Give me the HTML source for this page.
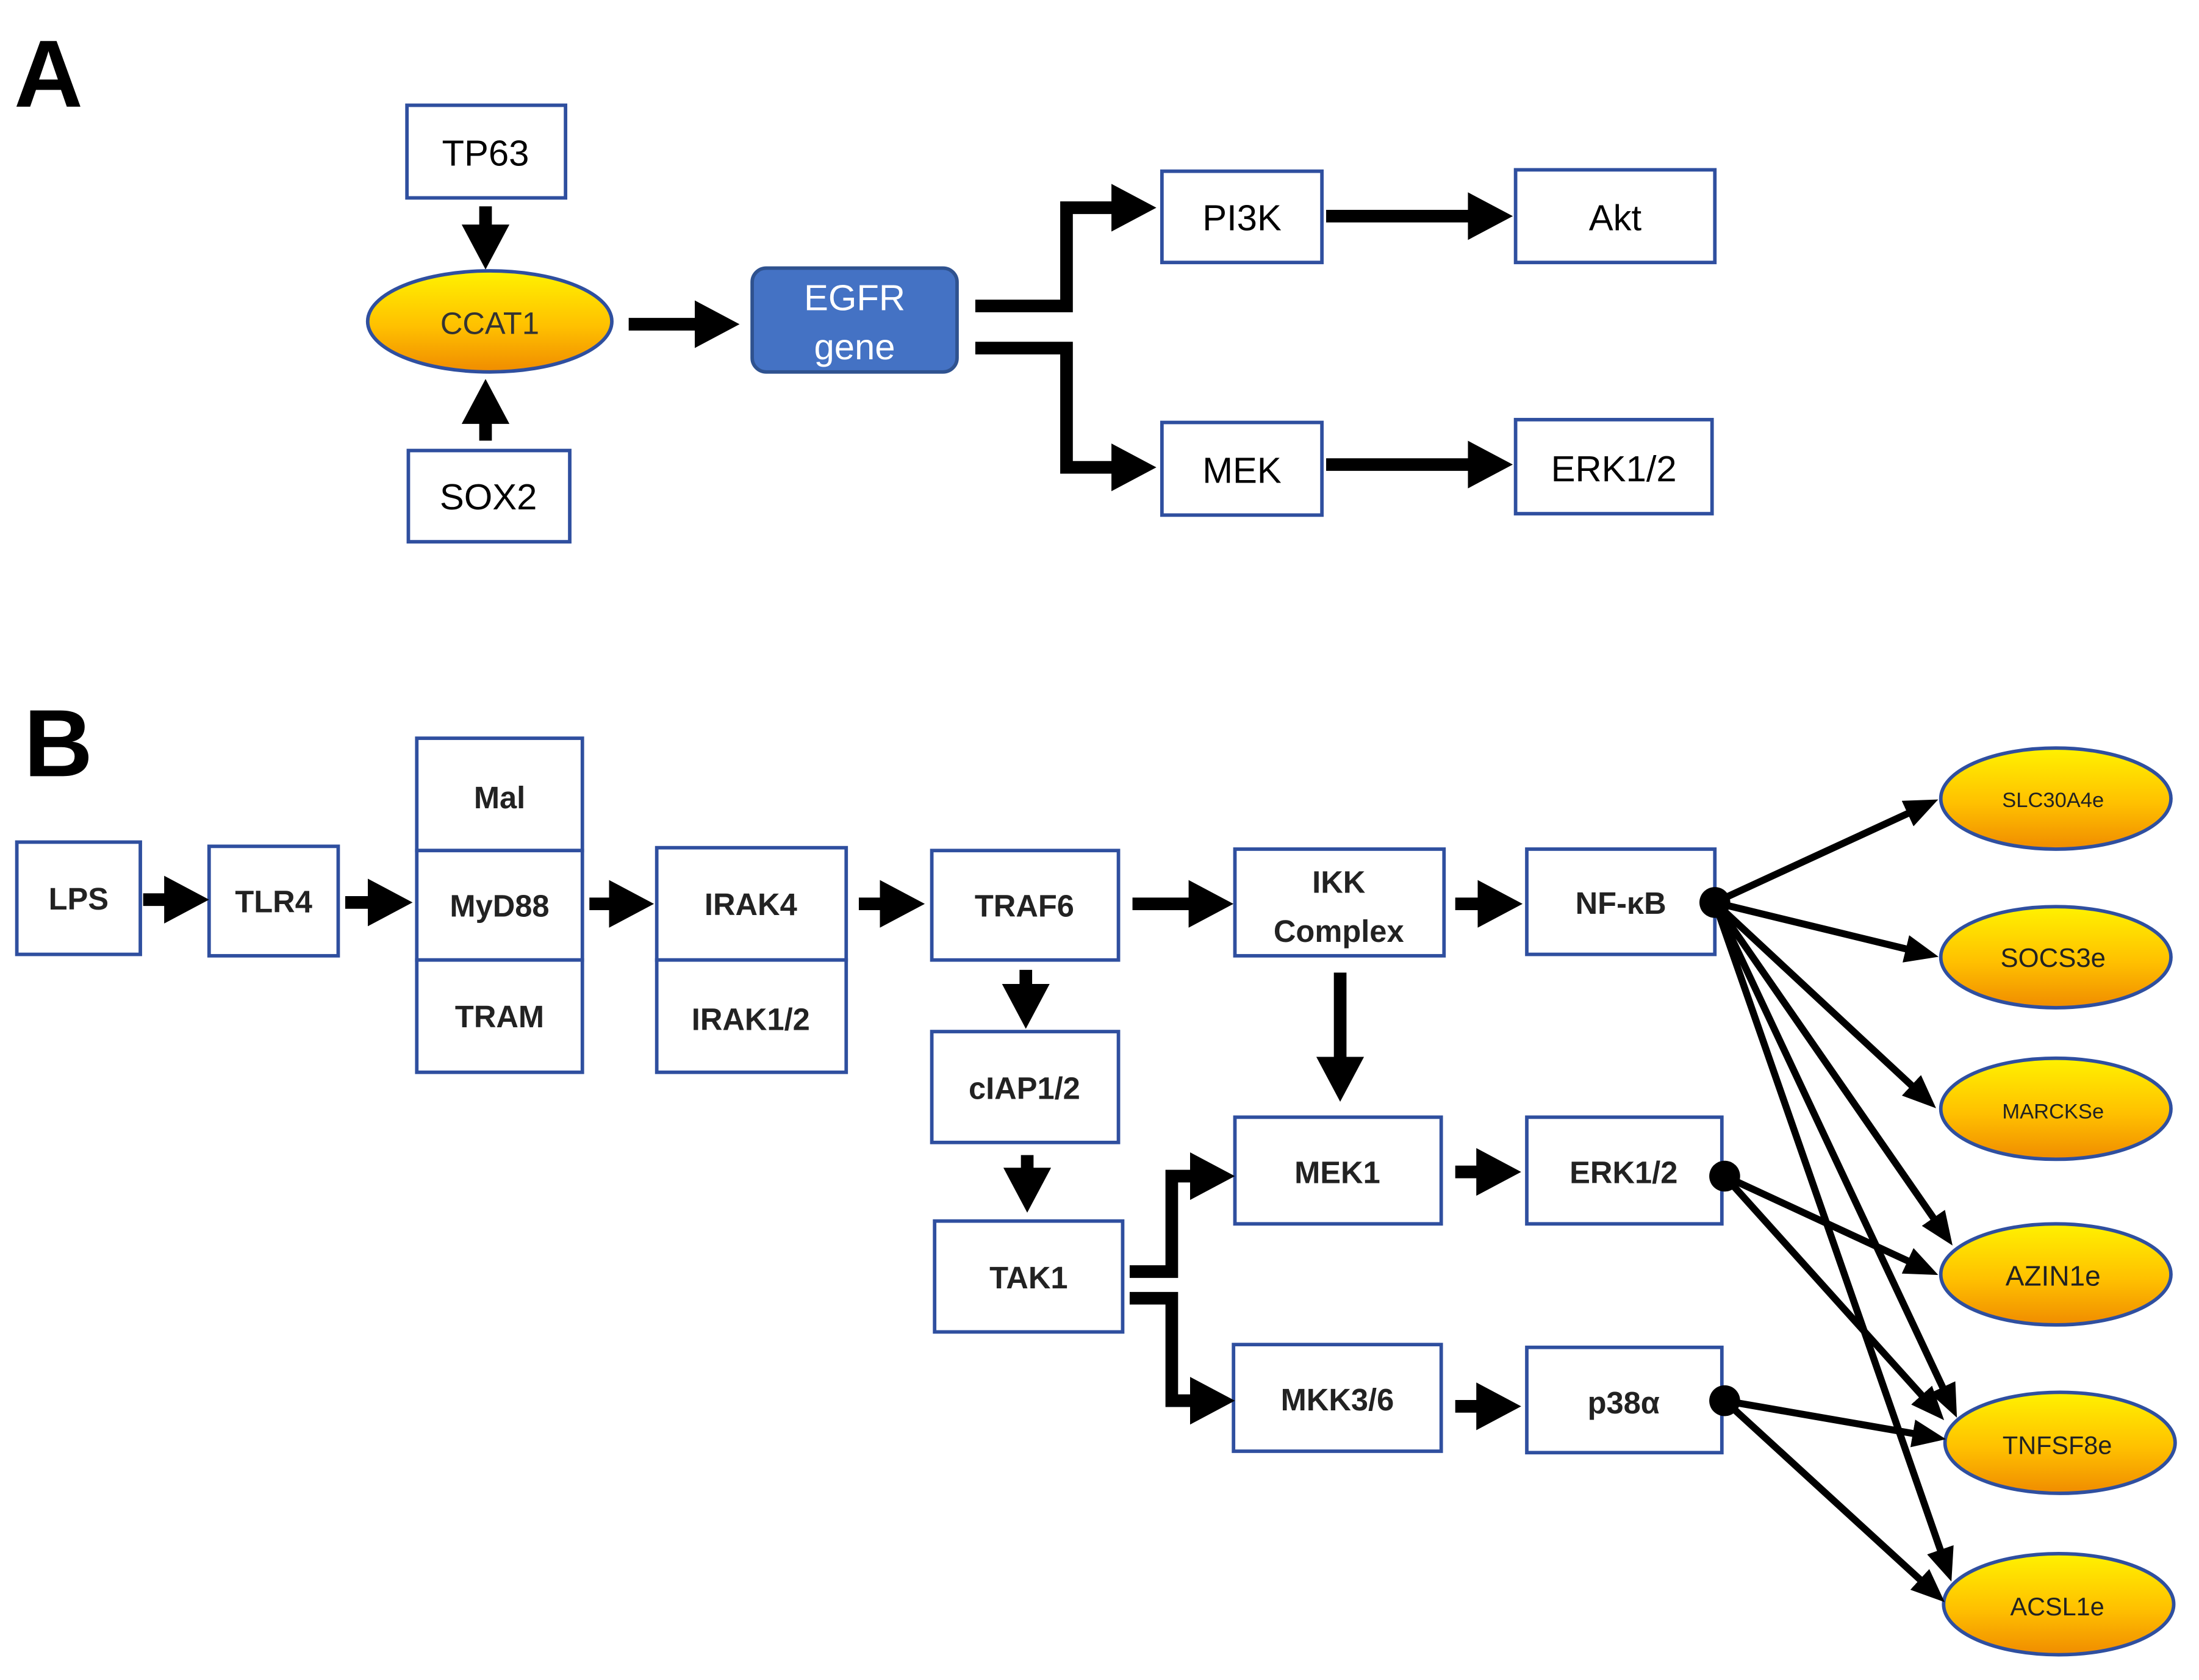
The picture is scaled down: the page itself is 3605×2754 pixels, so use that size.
<!DOCTYPE html>
<html><head><meta charset="utf-8"><style>
html,body{margin:0;padding:0;background:#fff}
svg{display:block}
text{font-family:"Liberation Sans",sans-serif}
</style></head><body>
<svg width="3605" height="2754" viewBox="0 0 1567 1197" preserveAspectRatio="none" xmlns="http://www.w3.org/2000/svg">
<defs>
<linearGradient id="g" x1="0" y1="0" x2="0" y2="1">
<stop offset="0" stop-color="#fff200"/><stop offset="0.55" stop-color="#ffc000"/><stop offset="1" stop-color="#f08c00"/>
</linearGradient>
<marker id="big" markerUnits="userSpaceOnUse" markerWidth="32" markerHeight="34" refX="5" refY="17" orient="auto"><path d="M0,0 L32,17 L0,34 z" fill="#000"/></marker>
<marker id="sm" markerUnits="userSpaceOnUse" markerWidth="24" markerHeight="20" refX="4" refY="10" orient="auto"><path d="M0,0 L24,10 L0,20 z" fill="#000"/></marker>
</defs>
<g fill="#fff" stroke="#2f4f9f" stroke-width="2.5">
<rect x="290" y="75" width="113" height="66"/>
<rect x="291" y="321" width="115" height="65"/>
<rect x="828" y="122" width="114" height="65"/>
<rect x="1080" y="121" width="142" height="66"/>
<rect x="828" y="301" width="114" height="66"/>
<rect x="1080" y="299" width="140" height="67"/>
<rect x="12" y="600" width="88" height="80"/>
<rect x="149" y="603" width="92" height="78"/>
<rect x="297" y="526" width="118" height="80"/>
<rect x="297" y="606" width="118" height="78"/>
<rect x="297" y="684" width="118" height="80"/>
<rect x="468" y="604" width="135" height="80"/>
<rect x="468" y="684" width="135" height="80"/>
<rect x="664" y="606" width="133" height="78"/>
<rect x="664" y="735" width="133" height="79"/>
<rect x="666" y="870" width="134" height="79"/>
<rect x="880" y="605" width="149" height="76"/>
<rect x="1088" y="605" width="134" height="75"/>
<rect x="880" y="796" width="147" height="76"/>
<rect x="1088" y="796" width="139" height="76"/>
<rect x="879" y="958" width="148" height="76"/>
<rect x="1088" y="960" width="139" height="75"/>
</g>
<rect x="536" y="191" width="146" height="74" rx="10" fill="#4472c4" stroke="#2f528f" stroke-width="2.5"/>
<g fill="url(#g)" stroke="#2f4f9f" stroke-width="2.5">
<ellipse cx="349" cy="229" rx="87" ry="36"/>
<ellipse cx="1465" cy="569" rx="82" ry="36"/>
<ellipse cx="1465" cy="682" rx="82" ry="36"/>
<ellipse cx="1465" cy="790" rx="82" ry="36"/>
<ellipse cx="1465" cy="908" rx="82" ry="36"/>
<ellipse cx="1468" cy="1028" rx="82" ry="36"/>
<ellipse cx="1467" cy="1143" rx="82" ry="36"/>
</g>
<g stroke="#000" stroke-width="9" fill="none" marker-end="url(#big)">
<line x1="346" y1="147" x2="346" y2="165"/>
<line x1="346" y1="314" x2="346" y2="297"/>
<line x1="448" y1="231" x2="500" y2="231"/>
<polyline points="695,218 760,218 760,148 797,148"/>
<polyline points="695,248 760,248 760,333 797,333"/>
<line x1="945" y1="154" x2="1051" y2="154"/>
<line x1="945" y1="331" x2="1051" y2="331"/>
<line x1="102" y1="641" x2="122" y2="641"/>
<line x1="246" y1="643" x2="267" y2="643"/>
<line x1="420" y1="644" x2="439" y2="644"/>
<line x1="612" y1="644" x2="632" y2="644"/>
<line x1="807" y1="644" x2="852" y2="644"/>
<line x1="1037" y1="644" x2="1058" y2="644"/>
<line x1="731" y1="691" x2="731" y2="706"/>
<line x1="732" y1="823" x2="732" y2="837"/>
<line x1="955" y1="693" x2="955" y2="758"/>
<line x1="1037" y1="835" x2="1057" y2="835"/>
<line x1="1037" y1="1002" x2="1057" y2="1002"/>
<polyline points="805,906 835,906 835,838 853,838"/>
<polyline points="805,925 835,925 835,998 853,998"/>
</g>
<g stroke="#000" stroke-width="5" fill="none" marker-end="url(#sm)">
<line x1="1222" y1="643" x2="1363" y2="578"/>
<line x1="1222" y1="643" x2="1362" y2="677"/>
<line x1="1222" y1="643" x2="1365" y2="776"/>
<line x1="1222" y1="643" x2="1380" y2="871"/>
<line x1="1222" y1="643" x2="1386" y2="992"/>
<line x1="1222" y1="643" x2="1384" y2="1108"/>
<line x1="1229" y1="838" x2="1363" y2="900"/>
<line x1="1229" y1="838" x2="1372" y2="997"/>
<line x1="1229" y1="998" x2="1367" y2="1022"/>
<line x1="1229" y1="998" x2="1371" y2="1128"/>
</g>
<circle cx="1222" cy="643" r="11"/>
<circle cx="1229" cy="838" r="11"/>
<circle cx="1229" cy="998" r="11"/>
<g font-size="68" font-weight="bold" fill="#000">
<text x="10" y="76">A</text>
<text x="17" y="553">B</text>
</g>
<g font-size="26" text-anchor="middle" fill="#000">
<text x="346" y="118">TP63</text>
<text x="348" y="363">SOX2</text>
<text x="885" y="164">PI3K</text>
<text x="1151" y="164">Akt</text>
<text x="885" y="344">MEK</text>
<text x="1150" y="343">ERK1/2</text>
<text x="349" y="238" font-size="22" fill="#333">CCAT1</text>
<text x="609" y="221" fill="#fff">EGFR</text>
<text x="609" y="256" fill="#fff">gene</text>
</g>
<g font-size="22" font-weight="bold" text-anchor="middle" fill="#222">
<text x="56" y="648">LPS</text>
<text x="195" y="650">TLR4</text>
<text x="356" y="576">Mal</text>
<text x="356" y="653">MyD88</text>
<text x="356" y="732">TRAM</text>
<text x="535" y="652">IRAK4</text>
<text x="535" y="734">IRAK1/2</text>
<text x="730" y="653">TRAF6</text>
<text x="730" y="783">cIAP1/2</text>
<text x="733" y="918">TAK1</text>
<text x="954" y="636">IKK</text>
<text x="954" y="671">Complex</text>
<text x="1155" y="651">NF-κB</text>
<text x="953" y="843">MEK1</text>
<text x="1157" y="843">ERK1/2</text>
<text x="953" y="1005">MKK3/6</text>
<text x="1157" y="1007">p38α</text>
</g>
<g text-anchor="middle" fill="#222">
<text x="1463" y="575" font-size="15">SLC30A4e</text>
<text x="1463" y="689" font-size="19">SOCS3e</text>
<text x="1463" y="797" font-size="15">MARCKSe</text>
<text x="1463" y="916" font-size="20">AZIN1e</text>
<text x="1466" y="1036" font-size="18">TNFSF8e</text>
<text x="1466" y="1151" font-size="18">ACSL1e</text>
</g>
</svg>
</body></html>
